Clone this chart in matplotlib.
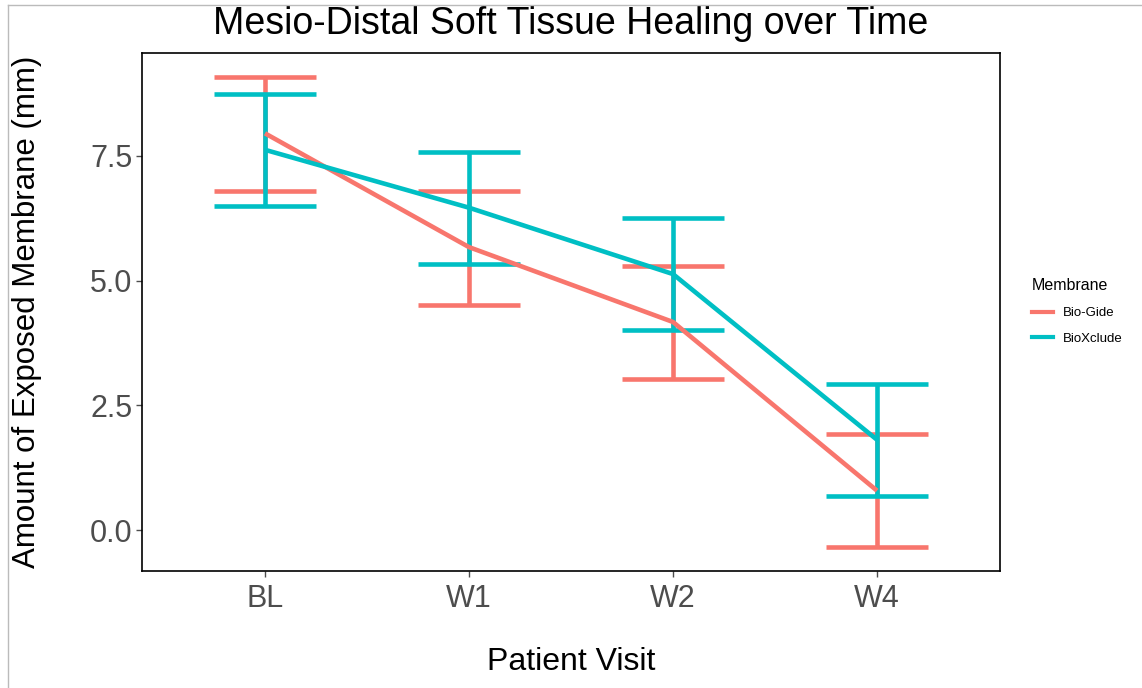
import numpy as np
import matplotlib.pyplot as plt
from matplotlib.lines import Line2D

plt.rcParams['font.family'] = ['Liberation Sans', 'DejaVu Sans']

visits = ['BL', 'W1', 'W2', 'W4']
membranes = ['Bio-Gide', 'BioXclude']
colors = ['#F8766D', '#00BFC4']

# mean exposed membrane and error bar limits per visit
biogide_mean = [7.95, 5.67, 4.17, 0.79]
biogide_lo = [6.79, 4.51, 3.03, -0.34]
biogide_hi = [9.08, 6.79, 5.30, 1.92]

bioxclude_mean = [7.62, 6.46, 5.13, 1.81]
bioxclude_lo = [6.49, 5.33, 4.01, 0.68]
bioxclude_hi = [8.73, 7.58, 6.26, 2.93]

fig = plt.figure(figsize=(11.42, 6.88), dpi=100)
ax = fig.add_axes([0.1243, 0.170, 0.7514, 0.753])

x = np.arange(len(visits))
series = [(biogide_mean, biogide_lo, biogide_hi),
          (bioxclude_mean, bioxclude_lo, bioxclude_hi)]

lw = 3.3
for (m, lo, hi), c in zip(series, colors):
    m, lo, hi = map(np.array, (m, lo, hi))
    ax.errorbar(x, m, yerr=[m - lo, hi - m], fmt='none', ecolor=c,
                elinewidth=lw, capsize=0, zorder=2)
    # caps drawn as horizontal segments 0.5 units wide
    ax.hlines(np.concatenate([lo, hi]), np.concatenate([x, x]) - 0.25,
              np.concatenate([x, x]) + 0.25, colors=c, linewidth=lw, zorder=2)
    ax.plot(x, m, color=c, linewidth=lw, solid_capstyle='butt', zorder=3)

ax.set_xlim(-0.603, 3.603)
ax.set_ylim(-0.82, 9.56)
ax.set_xticks(x)
ax.set_xticklabels(visits)
ax.set_yticks([0, 2.5, 5, 7.5])
ax.set_yticklabels(['0.0', '2.5', '5.0', '7.5'])
ax.tick_params(labelsize=22, colors='#4D4D4D', length=4, width=1, pad=3)
ax.tick_params(axis='x', pad=5)
for s in ax.spines.values():
    s.set_linewidth(1.2)
    s.set_color('black')

ax.set_title('Mesio-Distal Soft Tissue Healing over Time', fontsize=27, pad=14)
ax.set_xlabel('Patient Visit', fontsize=23, labelpad=24)
ax.set_ylabel('Amount of Exposed Membrane (mm)', fontsize=22.5, labelpad=34)

handles = [Line2D([], [], color=c, linewidth=3) for c in colors]
leg = fig.legend(handles, membranes, loc='upper left', bbox_to_anchor=(0.893, 0.613),
                 frameon=False, fontsize=9.5, title='Membrane', title_fontsize=11.5,
                 handlelength=1.6, labelspacing=1.0, alignment='left')
leg._legend_box.sep = 10

# thin frame at the top and left edges of the canvas
fig.add_artist(Line2D([0.007, 0.007], [0, 0.993], transform=fig.transFigure,
                      color='#BBBBBB', linewidth=1))
fig.add_artist(Line2D([0.007, 1], [0.993, 0.993], transform=fig.transFigure,
                      color='#BBBBBB', linewidth=1))

fig.savefig('out.png', dpi=100)
